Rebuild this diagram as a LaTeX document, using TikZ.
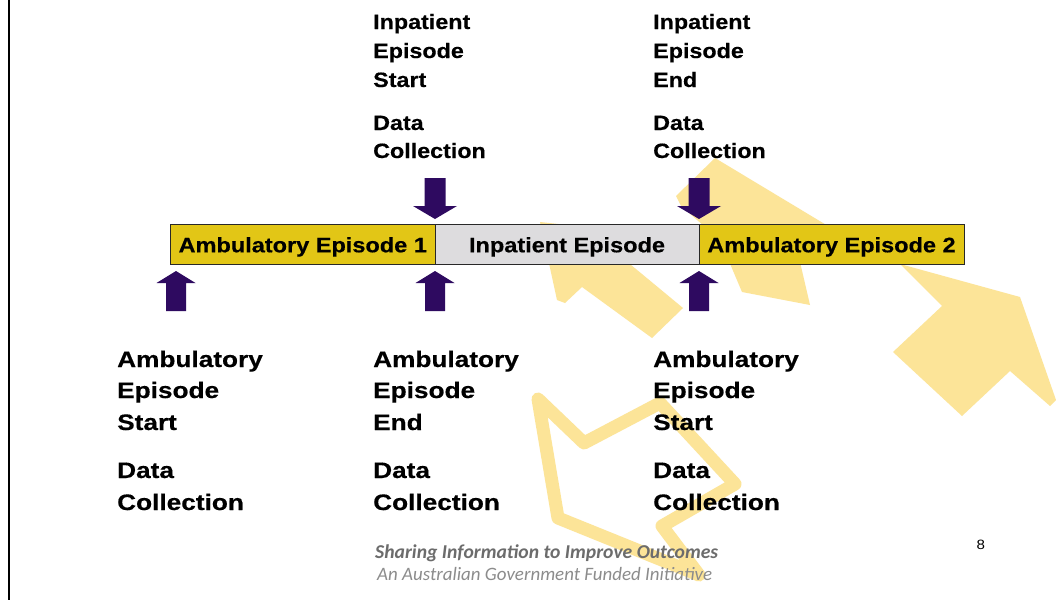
\documentclass[tikz,border=0pt]{standalone}
\usepackage{fontspec}
\newfontfamily\arialt[FakeStretch=1.12, FakeBold=0.4]{Liberation Sans Bold}
\newfontfamily\arialb[FakeStretch=1.17, FakeBold=0.4]{Liberation Sans Bold}
\newfontfamily\arialr[FakeStretch=1.12]{Liberation Sans}
\newfontfamily\footfont{Carlito}
\definecolor{wm}{RGB}{252,228,152}
\definecolor{ambyellow}{RGB}{226,198,22}
\definecolor{inpgray}{RGB}{221,220,222}
\definecolor{arrowpurple}{RGB}{46,10,96}
\definecolor{barline}{RGB}{40,40,40}
\definecolor{footdark}{RGB}{108,108,108}
\definecolor{footlight}{RGB}{140,140,140}
\begin{document}
\begin{tikzpicture}[x=1pt,y=-1pt,
  seg/.style={draw=barline, line width=1pt, minimum height=40pt, inner sep=0pt,
    text height=20pt, text depth=4pt, font=\arialt\fontsize{21}{25}\selectfont},
  toplbl/.style={anchor=base west, inner sep=0pt, font=\arialt\fontsize{20.8}{25}\selectfont},
  botlbl/.style={anchor=base west, inner sep=0pt, font=\arialb\fontsize{22.4}{27}\selectfont},
  downblock/.pic={\fill[arrowpurple] (-10.5,-41) -- (10.5,-41) -- (10.5,-13) -- (22,-13) -- (0,0)
      -- (-22,-13) -- (-10.5,-13) -- cycle;},
  upblock/.pic={\fill[arrowpurple] (0,0) -- (19.5,12) -- (10,12) -- (10,40) -- (-10,40)
      -- (-10,12) -- (-19.5,12) -- cycle;}
]
\useasboundingbox (0,0) rectangle (1056,600);
\fill[white] (0,0) rectangle (1056,600);

% watermark logo
\fill[wm] (540,222) -- (557,300) -- (565,303) -- (582,287) -- (652,338) -- (683,308)
  -- (613,250) -- (614,230) -- cycle;
\fill[wm] (715,158) -- (676,196) -- (681,206) -- (720,240) -- (742,292) -- (810,305)
  -- (800,262) -- (815,245) -- (828,226) -- cycle;
\fill[wm] (900,264) -- (1020,297) -- (1056,400) -- (1050,406) -- (1010,371) -- (962,416)
  -- (893,352) -- (942,306) -- cycle;
\draw[wm, line width=13pt, line join=round] (538,399) -- (584,443) -- (660,403) -- (735,484)
  -- (662,526) -- (699,575) -- (558,518) -- cycle;

% left rule
\fill[black] (7.5,0) rectangle (10,600);

% bar
\node[seg, fill=ambyellow, minimum width=264.5pt] (amb1) at (302.75,244.3) {Ambulatory Episode 1};
\node[seg, fill=inpgray, minimum width=264pt] (inp) at (567,244.3) {Inpatient Episode};
\node[seg, fill=ambyellow, minimum width=265pt] (amb2) at (831.5,244.3) {Ambulatory Episode 2};

% block arrows
\coordinate (d1) at (435,219);
\coordinate (d2) at (699,219);
\coordinate (u0) at (176,271);
\coordinate (u1) at (435,271);
\coordinate (u2) at (699,271);
\pic at (d1) {downblock};
\pic at (d2) {downblock};
\pic at (u0) {upblock};
\pic at (u1) {upblock};
\pic at (u2) {upblock};

% top labels
\node[toplbl] (ta1) at (373,29) {Inpatient};
\node[toplbl] (ta2) at (373,58) {Episode};
\node[toplbl] (ta3) at (373,87) {Start};
\node[toplbl] (ta4) at (373,130) {Data};
\node[toplbl] (ta5) at (373,158) {Collection};
\node[toplbl] (tb1) at (653,29) {Inpatient};
\node[toplbl] (tb2) at (653,58) {Episode};
\node[toplbl] (tb3) at (653,87) {End};
\node[toplbl] (tb4) at (653,130) {Data};
\node[toplbl] (tb5) at (653,158) {Collection};

% bottom labels
\node[botlbl] (ba1) at (117,367) {Ambulatory};
\node[botlbl] (ba2) at (117,398) {Episode};
\node[botlbl] (ba3) at (117,430) {Start};
\node[botlbl] (ba4) at (117,478) {Data};
\node[botlbl] (ba5) at (117,510) {Collection};
\node[botlbl] (bb1) at (373,367) {Ambulatory};
\node[botlbl] (bb2) at (373,398) {Episode};
\node[botlbl] (bb3) at (373,430) {End};
\node[botlbl] (bb4) at (373,478) {Data};
\node[botlbl] (bb5) at (373,510) {Collection};
\node[botlbl] (bc1) at (653,367) {Ambulatory};
\node[botlbl] (bc2) at (653,398) {Episode};
\node[botlbl] (bc3) at (653,430) {Start};
\node[botlbl] (bc4) at (653,478) {Data};
\node[botlbl] (bc5) at (653,510) {Collection};

% footer
\node[anchor=base west, inner sep=0pt, text=footdark] (foot1) at (375,558.3)
  {\resizebox{343pt}{!}{\footfont\bfseries\itshape Sharing Information to Improve Outcomes}};
\node[anchor=base west, inner sep=0pt, text=footlight] (foot2) at (377,580)
  {\resizebox{335pt}{!}{\footfont\itshape An Australian Government Funded Initiative}};
\node[anchor=base, inner sep=0pt, font=\arialr\fontsize{13.5}{16}\selectfont] (pagenum) at (980.7,549.3) {8};
\end{tikzpicture}
\end{document}
